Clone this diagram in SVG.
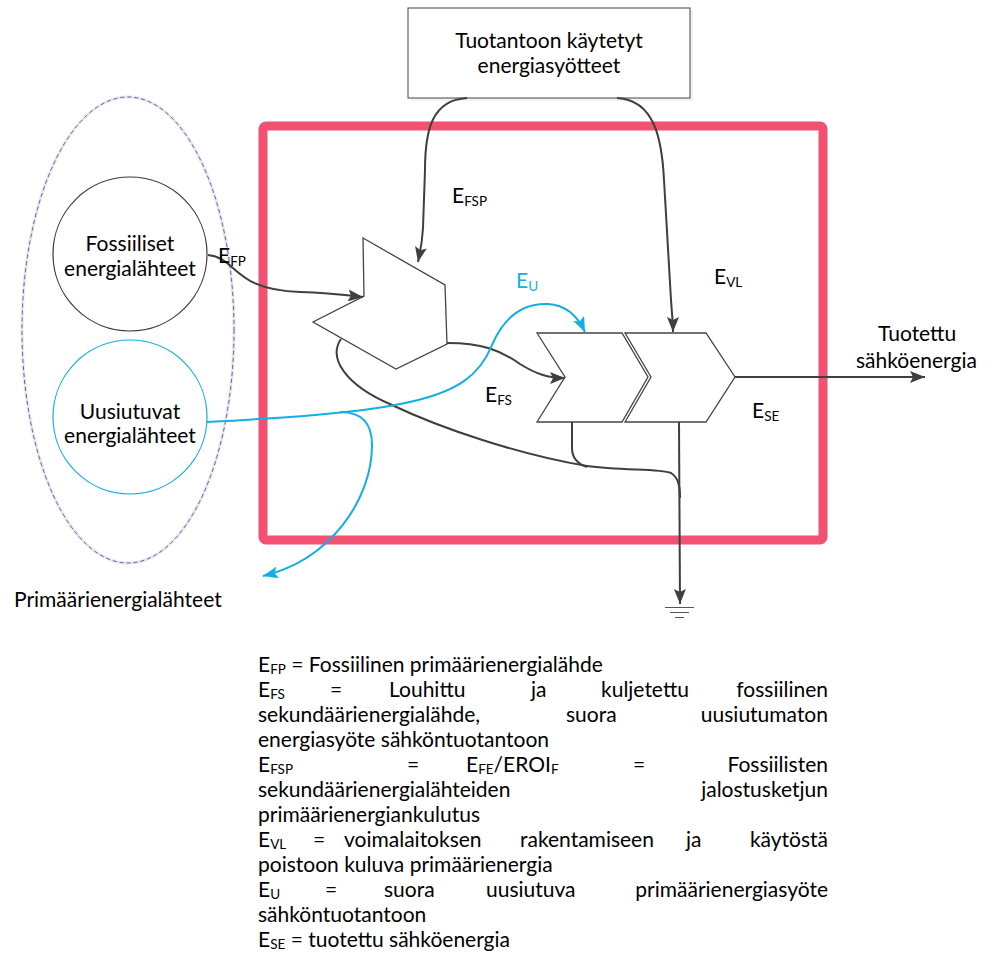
<svg xmlns="http://www.w3.org/2000/svg" width="992" height="956" viewBox="0 0 992 956">
<style>
text{font-family:Lato,"Open Sans","Liberation Sans",sans-serif;fill:#000}
.lbl{font-size:21px}
.sub{font-size:13.5px}
.leg{font-size:21px}
.con{fill:none;stroke:#3f3f3f;stroke-width:2}
.blue{fill:none;stroke:#12aee6;stroke-width:2}
.shape{fill:#fff;stroke:#444;stroke-width:1.3}
</style>
<defs>
<marker id="ah" markerUnits="userSpaceOnUse" markerWidth="16" markerHeight="12" refX="15" refY="6" orient="auto">
<path d="M0,0 L15,6 L0,12 L3,6 z" fill="#3f3f3f"/>
</marker>
<marker id="ahb" markerUnits="userSpaceOnUse" markerWidth="16" markerHeight="12" refX="15" refY="6" orient="auto">
<path d="M0,0 L15,6 L0,12 L3,6 z" fill="#12aee6"/>
</marker>
</defs>
<rect width="992" height="956" fill="#fff"/>

<g id="primary-group">
<ellipse cx="128" cy="330" rx="106" ry="233" fill="none" stroke="#e6e8f0" stroke-width="3"/>
<ellipse cx="128" cy="330" rx="106" ry="233" fill="none" stroke="#5b6496" stroke-width="1" stroke-dasharray="4,3"/>
<text x="14" y="607" class="lbl">Primäärienergialähteet</text>
</g>

<g id="system-boundary">
<rect x="263" y="126" width="560" height="414" rx="3" fill="none" stroke="#f35172" stroke-width="9"/>
</g>

<g id="fossil">
<circle cx="130" cy="254" r="77" fill="#fff" stroke="#3a3a3a" stroke-width="1.2"/>
<text x="130" y="251" class="lbl" text-anchor="middle">Fossiiliset</text>
<text x="130" y="276" class="lbl" text-anchor="middle">energialähteet</text>
</g>

<g id="renewable">
<circle cx="130" cy="417" r="77" fill="#fff" stroke="#12aee6" stroke-width="1.2"/>
<text x="130" y="419" class="lbl" text-anchor="middle">Uusiutuvat</text>
<text x="130" y="443" class="lbl" text-anchor="middle">energialähteet</text>
</g>

<g id="inputs-box">
<rect x="411" y="11" width="282" height="90" fill="#f2f2f2"/>
<rect x="408" y="8" width="282" height="90" fill="#fff" stroke="#444" stroke-width="1"/>
<text x="549" y="48" class="lbl" text-anchor="middle">Tuotantoon käytetyt</text>
<text x="549" y="73" class="lbl" text-anchor="middle">energiasyötteet</text>
</g>

<g id="refining">
<polygon class="shape" points="363,238 445,285 447,344 396,369 313,322 364,296"/>
</g>

<g id="plant-stage-1">
<polygon class="shape" points="537,333 622,333 648,377 622,422 537,422 565,377"/>
</g>
<g id="plant-stage-2">
<polygon class="shape" points="625,333 706,333 735,377 706,422 625,422 651,377"/>
</g>

<g id="connectors">
<path class="con" d="M208,255 C238,258 232,290 300,292 C330,293 345,295 363,297" marker-end="url(#ah)"/>
<path class="con" d="M467,98 C432,100 425,130 425,170 L423,228 C422,245 420,252 418,262" marker-end="url(#ah)"/>
<path class="con" d="M617,98 C655,100 662,140 664,180 L671,300 C672,315 673,322 673,332" marker-end="url(#ah)"/>
<path class="con" d="M447,343 C482,343 500,350 520,364 C536,374 548,378 565,378" marker-end="url(#ah)"/>
<path class="con" d="M735,377 L925,377" marker-end="url(#ah)"/>
<path class="con" d="M341,339 C328,358 345,385 392,405 C440,428 520,455 587,466 C622,471 660,468 671,473 C679,478 680,488 680,498"/>
<path class="con" d="M572,422 L572,448 C572,458 578,464 587,467"/>
<path class="con" d="M679,422 L680,604" marker-end="url(#ah)"/>
<path d="M665,607.5 L694,607.5 M670,612.5 L689,612.5 M675,617.5 L684,617.5" stroke="#555" stroke-width="1.2" fill="none"/>
<path class="blue" d="M207,422 C280,418 350,414 400,404 C458,393 480,375 492,345 C505,315 525,303 548,304 C566,305 578,317 585,332" marker-end="url(#ahb)"/>
<path class="blue" d="M340,412 C364,412 372,425 372,445 C372,500 330,560 263,576" marker-end="url(#ahb)"/>
</g>

<g id="labels">
<text x="218" y="263" class="lbl">E<tspan class="sub" dy="3">FP</tspan></text>
<text x="452" y="203" class="lbl">E<tspan class="sub" dy="3">FSP</tspan></text>
<text x="516" y="288" class="lbl" style="fill:#12aee6">E<tspan class="sub" dy="3" style="fill:#12aee6">U</tspan></text>
<text x="714" y="284" class="lbl">E<tspan class="sub" dy="3">VL</tspan></text>
<text x="485" y="402" class="lbl">E<tspan class="sub" dy="3">FS</tspan></text>
<text x="752" y="418" class="lbl">E<tspan class="sub" dy="3">SE</tspan></text>
<text x="878" y="341" class="lbl">Tuotettu</text>
<text x="856" y="368" class="lbl">sähköenergia</text>
</g>

<g id="legend" class="leg">
<text x="258" y="672" class="leg">E<tspan class="sub" dy="2">FP</tspan><tspan dy="-2"> = Fossiilinen primäärienergialähde</tspan></text>
<text y="697" class="leg"><tspan x="258">E</tspan><tspan class="sub" dy="2">FS</tspan><tspan x="330" dy="-2">=</tspan><tspan x="389">Louhittu</tspan><tspan x="531">ja</tspan><tspan x="601">kuljetettu</tspan><tspan x="828" text-anchor="end">fossiilinen</tspan></text>
<text y="722" class="leg"><tspan x="258">sekundäärienergialähde,</tspan><tspan x="566">suora</tspan><tspan x="828" text-anchor="end">uusiutumaton</tspan></text>
<text x="258" y="747" class="leg">energiasyöte sähköntuotantoon</text>
<text y="772" class="leg"><tspan x="258">E</tspan><tspan class="sub" dy="2">FSP</tspan><tspan x="407" dy="-2">=</tspan><tspan x="466">E</tspan><tspan class="sub" dy="2">FE</tspan><tspan dy="-2">/EROI</tspan><tspan class="sub" dy="2">F</tspan><tspan x="633" dy="-2">=</tspan><tspan x="828" text-anchor="end">Fossiilisten</tspan></text>
<text y="797" class="leg"><tspan x="258">sekundäärienergialähteiden</tspan><tspan x="828" text-anchor="end">jalostusketjun</tspan></text>
<text x="258" y="822" class="leg">primäärienergiankulutus</text>
<text y="847" class="leg"><tspan x="258">E</tspan><tspan class="sub" dy="2">VL</tspan><tspan x="313" dy="-2">=</tspan><tspan x="344">voimalaitoksen</tspan><tspan x="520">rakentamiseen</tspan><tspan x="686">ja</tspan><tspan x="828" text-anchor="end">käytöstä</tspan></text>
<text x="258" y="872" class="leg">poistoon kuluva primäärienergia</text>
<text y="897" class="leg"><tspan x="258">E</tspan><tspan class="sub" dy="2">U</tspan><tspan x="325" dy="-2">=</tspan><tspan x="384">suora</tspan><tspan x="486">uusiutuva</tspan><tspan x="828" text-anchor="end">primäärienergiasyöte</tspan></text>
<text x="258" y="922" class="leg">sähköntuotantoon</text>
<text x="258" y="947" class="leg">E<tspan class="sub" dy="2">SE</tspan><tspan dy="-2"> = tuotettu sähköenergia</tspan></text>
</g>
</svg>
